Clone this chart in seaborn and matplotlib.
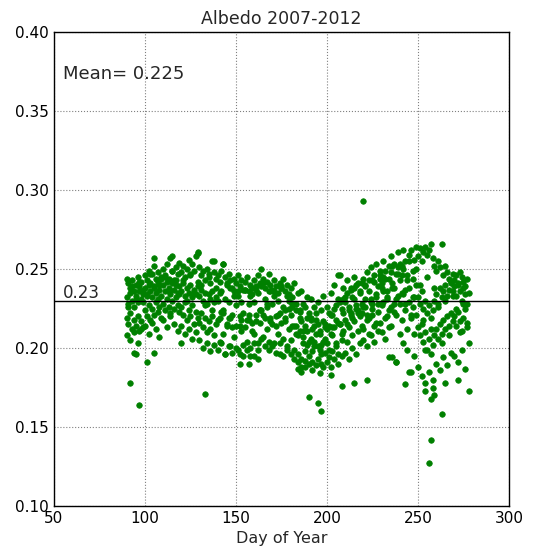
import numpy as np
import pandas as pd
import seaborn as sns
import matplotlib.pyplot as plt

# dias do ano (90 a 279)
doy = np.arange(90, 280)

# albedo diario - quatro series
alb_a = [0.244, 0.241, 0.238, 0.243, 0.236, 0.240, 0.245, 0.239, 0.242, 0.237,
         0.246, 0.243, 0.249, 0.241, 0.247, 0.252, 0.244, 0.248, 0.240, 0.245,
         0.250, 0.246, 0.253, 0.244, 0.257, 0.249, 0.243, 0.251, 0.247, 0.254,
         0.248, 0.252, 0.245, 0.250, 0.256, 0.247, 0.253, 0.249, 0.258, 0.260,
         0.251, 0.246, 0.249, 0.243, 0.250, 0.247, 0.241, 0.255, 0.248, 0.244,
         0.246, 0.242, 0.249, 0.253, 0.245, 0.240, 0.247, 0.243, 0.238, 0.244,
         0.241, 0.246, 0.239, 0.243, 0.237, 0.242, 0.245, 0.236, 0.240, 0.238,
         0.243, 0.239, 0.246, 0.241, 0.250, 0.244, 0.238, 0.242, 0.247, 0.240,
         0.237, 0.243, 0.239, 0.235, 0.241, 0.238, 0.244, 0.236, 0.240, 0.234,
         0.238, 0.226, 0.241, 0.224, 0.235, 0.219, 0.236, 0.228, 0.214, 0.232,
         0.222, 0.231, 0.212, 0.226, 0.218, 0.229, 0.209, 0.224, 0.233, 0.215,
         0.226, 0.214, 0.235, 0.221, 0.240, 0.218, 0.231, 0.246, 0.225, 0.238,
         0.229, 0.243, 0.224, 0.238, 0.232, 0.245, 0.227, 0.241, 0.236, 0.222,
         0.244, 0.231, 0.248, 0.236, 0.251, 0.228, 0.242, 0.253, 0.239, 0.249,
         0.238, 0.255, 0.244, 0.232, 0.252, 0.258, 0.241, 0.253, 0.247, 0.261,
         0.253, 0.246, 0.262, 0.255, 0.243, 0.259, 0.262, 0.249, 0.256, 0.264,
         0.258, 0.263, 0.255, 0.261, 0.264, 0.259, 0.262, 0.266, 0.257, 0.252,
         0.249, 0.255, 0.251, 0.266, 0.246, 0.252, 0.248, 0.244, 0.241, 0.247,
         0.243, 0.246, 0.240, 0.248, 0.245, 0.242, 0.239, 0.244, np.nan, np.nan]

alb_b = [0.232, 0.228, 0.235, 0.230, 0.226, 0.233, 0.229, 0.236, 0.231, 0.234,
         0.238, 0.234, 0.240, 0.236, 0.232, 0.239, 0.235, 0.242, 0.237, 0.233,
         0.240, 0.236, 0.242, 0.238, 0.234, 0.241, 0.237, 0.243, 0.235, 0.239,
         0.236, 0.241, 0.233, 0.238, 0.235, 0.240, 0.232, 0.237, 0.234, 0.239,
         0.233, 0.237, 0.230, 0.235, 0.228, 0.234, 0.231, 0.236, 0.229, 0.232,
         0.230, 0.219, 0.236, 0.224, 0.231, 0.215, 0.229, 0.238, 0.221, 0.233,
         0.227, 0.236, 0.214, 0.229, 0.222, 0.237, 0.218, 0.228, 0.233, 0.211,
         0.229, 0.217, 0.235, 0.224, 0.239, 0.221, 0.231, 0.226, 0.236, 0.219,
         0.228, 0.236, 0.214, 0.230, 0.222, 0.239, 0.226, 0.217, 0.233, 0.225,
         0.221, 0.232, 0.214, 0.228, 0.208, 0.224, 0.217, 0.203, 0.226, 0.211,
         0.204, 0.219, 0.198, 0.214, 0.222, 0.201, 0.211, 0.196, 0.217, 0.206,
         0.212, 0.199, 0.221, 0.208, 0.225, 0.203, 0.216, 0.229, 0.209, 0.222,
         0.232, 0.215, 0.226, 0.237, 0.219, 0.231, 0.240, 0.222, 0.235, 0.228,
         0.226, 0.239, 0.221, 0.243, 0.231, 0.225, 0.246, 0.234, 0.228, 0.244,
         0.241, 0.229, 0.249, 0.236, 0.244, 0.226, 0.252, 0.238, 0.231, 0.247,
         0.243, 0.235, 0.250, 0.228, 0.246, 0.238, 0.221, 0.244, 0.232, 0.240,
         0.232, 0.228, 0.236, 0.225, 0.230, 0.222, 0.227, 0.219, 0.224, 0.230,
         0.234, 0.228, 0.238, 0.232, 0.236, 0.240, 0.233, 0.237, 0.242, 0.236,
         0.239, 0.233, 0.241, 0.236, 0.230, 0.238, 0.234, 0.228, 0.235, np.nan]

alb_c = [0.219, 0.215, 0.222, 0.212, 0.218, 0.214, 0.220, 0.211, 0.217, 0.213,
         0.224, 0.220, 0.227, 0.218, 0.225, 0.221, 0.229, 0.223, 0.226, 0.219,
         0.228, 0.224, 0.231, 0.226, 0.222, 0.230, 0.225, 0.232, 0.227, 0.223,
         0.226, 0.221, 0.229, 0.218, 0.224, 0.220, 0.227, 0.215, 0.223, 0.219,
         0.216, 0.222, 0.213, 0.219, 0.210, 0.217, 0.212, 0.220, 0.208, 0.215,
         0.218, 0.204, 0.223, 0.209, 0.196, 0.214, 0.219, 0.201, 0.213, 0.207,
         0.214, 0.199, 0.220, 0.211, 0.195, 0.213, 0.204, 0.218, 0.200, 0.216,
         0.209, 0.221, 0.203, 0.216, 0.224, 0.207, 0.219, 0.212, 0.199, 0.217,
         0.215, 0.203, 0.220, 0.209, 0.196, 0.216, 0.206, 0.219, 0.201, 0.212,
         0.205, 0.214, 0.199, 0.209, 0.196, 0.211, 0.193, 0.207, 0.198, 0.202,
         0.195, 0.206, 0.191, 0.201, 0.209, 0.193, 0.199, 0.190, 0.204, 0.197,
         0.203, 0.194, 0.209, 0.198, 0.213, 0.201, 0.196, 0.215, 0.205, 0.211,
         0.218, 0.204, 0.213, 0.222, 0.208, 0.217, 0.225, 0.211, 0.220, 0.214,
         0.212, 0.226, 0.218, 0.209, 0.229, 0.221, 0.214, 0.232, 0.223, 0.216,
         0.227, 0.236, 0.219, 0.231, 0.224, 0.214, 0.238, 0.228, 0.221, 0.233,
         0.228, 0.218, 0.234, 0.224, 0.212, 0.229, 0.219, 0.226, 0.209, 0.221,
         0.213, 0.208, 0.215, 0.204, 0.210, 0.199, 0.206, 0.196, 0.202, 0.208,
         0.212, 0.206, 0.215, 0.209, 0.218, 0.212, 0.220, 0.214, 0.222, 0.217,
         0.220, 0.214, 0.223, 0.217, 0.211, 0.219, 0.225, 0.216, np.nan, np.nan]

alb_d = [0.208, 0.226, 0.205, 0.239, 0.210, 0.231, 0.203, 0.242, 0.212, 0.229,
         0.214, 0.233, 0.209, 0.247, 0.216, 0.238, 0.212, 0.231, 0.207, 0.244,
         0.218, 0.245, 0.213, 0.236, 0.220, 0.249, 0.215, 0.240, 0.211, 0.234,
         0.214, 0.243, 0.209, 0.230, 0.212, 0.246, 0.206, 0.235, 0.210, 0.242,
         0.205, 0.240, 0.200, 0.227, 0.203, 0.245, 0.198, 0.224, 0.202, 0.238,
         0.199, 0.235, 0.203, 0.222, 0.196, 0.241, 0.201, 0.219, 0.197, 0.236,
         0.200, 0.233, 0.196, 0.218, 0.202, 0.237, 0.199, 0.221, 0.195, 0.234,
         0.203, 0.237, 0.199, 0.224, 0.206, 0.241, 0.201, 0.228, 0.204, 0.236,
         0.201, 0.233, 0.197, 0.221, 0.203, 0.238, 0.195, 0.224, 0.199, 0.230,
         0.196, 0.228, 0.193, 0.214, 0.191, 0.223, 0.188, 0.211, 0.192, 0.219,
         0.190, 0.218, 0.186, 0.204, 0.189, 0.215, 0.184, 0.202, 0.188, 0.213,
         0.191, 0.222, 0.188, 0.213, 0.193, 0.227, 0.190, 0.215, 0.195, 0.231,
         0.197, 0.235, 0.193, 0.221, 0.200, 0.238, 0.196, 0.224, 0.203, 0.241,
         0.205, 0.240, 0.201, 0.219, 0.208, 0.243, 0.204, 0.216, 0.211, 0.246,
         0.210, 0.245, 0.206, 0.220, 0.213, 0.248, 0.194, 0.223, 0.191, 0.251,
         0.209, 0.252, 0.203, 0.237, 0.199, 0.255, 0.185, 0.232, 0.195, 0.250,
         0.188, 0.240, 0.182, 0.218, 0.199, 0.245, 0.185, 0.212, 0.180, 0.238,
         0.190, 0.226, 0.186, 0.203, 0.194, 0.230, 0.189, 0.208, 0.197, 0.233,
         0.195, 0.225, 0.191, 0.210, 0.199, 0.228, 0.187, 0.213, 0.203, np.nan]

# pontos isolados
out_doy = [92, 97, 94, 95, 101, 105, 120, 133, 152, 157,
           160, 162, 184, 186, 188, 190, 195, 197, 202, 208,
           215, 220, 222, 234, 238, 243, 245, 254, 254, 257,
           258, 259, 256, 257, 263, 265, 272, 278, 105, 115,
           129, 138, 143, 206]
out_alb = [0.178, 0.164, 0.197, 0.196, 0.191, 0.197, 0.203, 0.171, 0.190, 0.190,
           0.195, 0.193, 0.187, 0.185, 0.188, 0.169, 0.165, 0.160, 0.183, 0.176,
           0.178, 0.293, 0.180, 0.194, 0.191, 0.177, 0.185, 0.178, 0.173, 0.168,
           0.175, 0.170, 0.127, 0.142, 0.158, 0.178, 0.180, 0.173, 0.257, 0.258,
           0.261, 0.255, 0.253, 0.246]

mean_txt = 'Mean= 0.225'
mean_line = 0.23

df = pd.DataFrame({
    'doy': np.concatenate([doy, doy, doy, doy, out_doy]),
    'albedo': np.concatenate([alb_a, alb_b, alb_c, alb_d, out_alb]),
}).dropna()

sns.set_style('white')
plt.rcParams['font.family'] = ['DejaVu Sans']

fig, ax = plt.subplots(figsize=(5.33, 5.53), dpi=100)
fig.subplots_adjust(left=0.101, right=0.955, top=0.942, bottom=0.085)

sns.scatterplot(data=df, x='doy', y='albedo', ax=ax, color='green',
                edgecolor='green', s=16, linewidth=0.5, legend=False)
ax.axhline(mean_line, color='black', lw=1)

ax.set_xlim(50, 300)
ax.set_ylim(0.10, 0.40)
ax.set_xticks([50, 100, 150, 200, 250, 300])
ax.set_yticks([0.10, 0.15, 0.20, 0.25, 0.30, 0.35, 0.40])
ax.set_yticklabels(['0.10', '0.15', '0.20', '0.25', '0.30', '0.35', '0.40'])
ax.grid(True, linestyle=':', color='gray', lw=0.8)
for s in ax.spines.values():
    s.set_color('black')
    s.set_linewidth(1)
ax.tick_params(labelsize=11, direction='in', length=4, colors='black')

ax.text(55, 0.37, mean_txt, fontsize=13)
ax.text(55, 0.2315, '%.2f' % mean_line, fontsize=12)

ax.set_title('Albedo 2007-2012', fontsize=12.5)
ax.set_xlabel('Day of Year', fontsize=11.5)
ax.set_ylabel('')

plt.savefig('out.png')
